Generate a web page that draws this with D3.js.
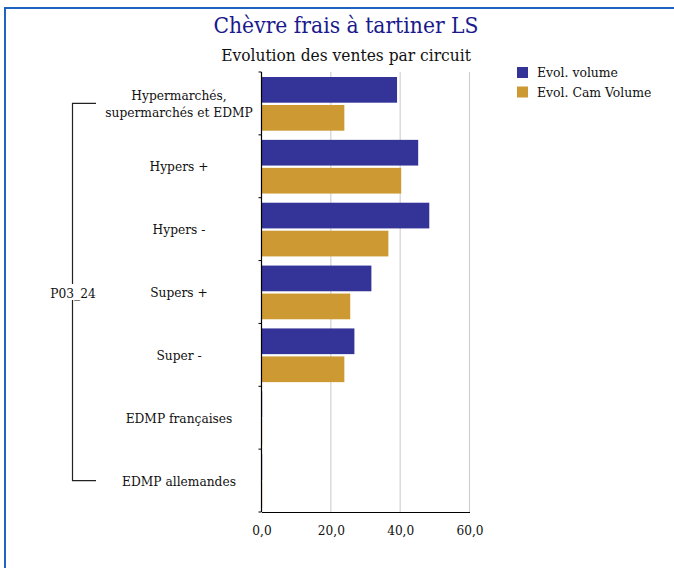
<!DOCTYPE html>
<html><head><meta charset="utf-8">
<script src="https://cdn.jsdelivr.net/npm/d3@7/dist/d3.min.js"></script>
<style>body{margin:0;background:#fff}svg{display:block}text{font-family:"DejaVu Serif Condensed","DejaVu Serif",serif}</style>
</head><body><svg id="c" width="674" height="568"></svg>
<script>
const categories = [["Hypermarchés,","supermarchés et EDMP"],["Hypers +"],["Hypers -"],["Supers +"],["Super -"],["EDMP françaises"],["EDMP allemandes"]];
const evolVolume = [39.1, 45.2, 48.4, 31.7, 26.8, 0.2, 0.2];
const evolCamVolume = [23.9, 40.3, 36.6, 25.6, 23.9, 0.2, 0.2];
const seriesNames = ["Evol. volume","Evol. Cam Volume"];
const seriesColors = ["#343498","#cc9933"];
const xTicks = [0,20,40,60];
const groupLabel = "P03_24";

const svg = d3.select("#c");
svg.append("rect").attr("x",5).attr("y",8).attr("width",700).attr("height",600)
  .attr("fill","none").attr("stroke","#1f63c0").attr("stroke-width",2);

svg.append("text").attr("x",346).attr("y",33).attr("text-anchor","middle")
  .attr("fill","#1a1a8c").attr("font-size",22.6).text("Chèvre frais à tartiner LS");
svg.append("text").attr("x",346).attr("y",61).attr("text-anchor","middle")
  .attr("fill","#111").attr("font-size",17.2).text("Evolution des ventes par circuit");

const x = d3.scaleLinear().domain([0,60]).range([261.5,469.5]);
const y = d3.scaleBand().domain(d3.range(categories.length)).range([72,512]);

// grid
svg.append("g").selectAll("line").data(xTicks.slice(1)).join("line")
  .attr("x1",d=>x(d)).attr("x2",d=>x(d)).attr("y1",72).attr("y2",512)
  .attr("stroke","#d0d0d0").attr("stroke-width",1.2);

const bh = 25.7;
const g = svg.append("g");
[evolVolume, evolCamVolume].forEach((vals,si)=>{
  g.selectAll(null).data(vals).join("rect")
    .attr("x",x(0)).attr("y",(d,i)=>y(i)+5+si*(bh+2.3))
    .attr("width",d=>x(d)-x(0)).attr("height",bh).attr("fill",seriesColors[si]);
});

// axes
const xa = svg.append("g").attr("transform","translate(0,512)")
  .call(d3.axisBottom(x).tickValues(xTicks).tickSize(0).tickPadding(13).tickFormat(d=>d3.format(".1f")(d).replace(".",",")));
xa.select(".domain").attr("stroke","#000").attr("stroke-width",1.2);
xa.selectAll("text").attr("font-size",13.5).attr("fill","#111").style("font-family",'"DejaVu Serif Condensed","DejaVu Serif",serif');

svg.append("line").attr("x1",x(0)).attr("x2",x(0)).attr("y1",72).attr("y2",512).attr("stroke","#000").attr("stroke-width",1.2);
svg.append("g").selectAll("line").data(d3.range(categories.length+1)).join("line")
  .attr("x1",x(0)-3).attr("x2",x(0)).attr("y1",i=>72+i*y.step()).attr("y2",i=>72+i*y.step()).attr("stroke","#000");

// category labels
const lab = svg.append("g");
categories.forEach((lines,i)=>{
  const cy = y(i)+y.bandwidth()/2 + 5;
  const t = lab.append("text").attr("text-anchor","middle").attr("font-size",13.6).attr("fill","#111");
  lines.forEach((l,j)=>t.append("tspan").attr("x",179).attr("y",cy+(j-(lines.length-1)/2)*17).text(l));
});

// bracket
const yTop = y(0)+y.bandwidth()/2, yBot = y(categories.length-1)+y.bandwidth()/2;
svg.append("path").attr("d",`M96,${yTop}H72.5V${yBot}H96`).attr("fill","none").attr("stroke","#222").attr("stroke-width",1.2);
svg.append("rect").attr("x",46).attr("y",284).attr("width",54).attr("height",16).attr("fill","#fff");
svg.append("text").attr("x",73).attr("y",298).attr("text-anchor","middle").attr("font-size",13.6).attr("fill","#111").text(groupLabel);

// legend
const lg = svg.append("g");
seriesNames.forEach((n,i)=>{
  lg.append("rect").attr("x",517).attr("y",67+i*19.5).attr("width",11).attr("height",11).attr("fill",seriesColors[i]);
  lg.append("text").attr("x",537).attr("y",77+i*19.5).attr("font-size",13.8).attr("fill","#111").text(n);
});
</script></body></html>
